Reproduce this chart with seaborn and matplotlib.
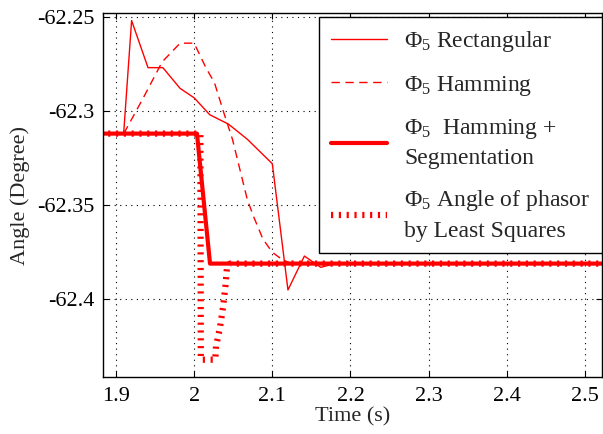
import matplotlib
matplotlib.use("Agg")
import matplotlib.pyplot as plt
import seaborn as sns
import pandas as pd

# data
rect_t = [1.91, 1.92, 1.941, 1.96, 1.982, 2.0, 2.02, 2.044, 2.068, 2.1, 2.12, 2.141, 2.162, 2.18, 2.2, 2.6]
rect_a = [-62.311, -62.252, -62.277, -62.277, -62.288, -62.293, -62.302, -62.307, -62.315, -62.328,
          -62.395, -62.377, -62.383, -62.381, -62.381, -62.381]

ham_t = [1.91, 1.935, 1.959, 1.982, 2.0, 2.015, 2.026, 2.038, 2.049, 2.068, 2.076, 2.088, 2.1, 2.113, 2.125, 2.6]
ham_a = [-62.312, -62.293, -62.274, -62.264, -62.264, -62.277, -62.285, -62.301, -62.315, -62.347,
         -62.356, -62.368, -62.375, -62.379, -62.381, -62.381]

seg_t = [1.88, 2.0036, 2.0203, 2.6]
seg_a = [-62.312, -62.312, -62.381, -62.381]

ls_t = [1.88, 2.008, 2.0085, 2.027, 2.028, 2.033, 2.037, 2.040, 2.042, 2.046, 2.6]
ls_a = [-62.312, -62.312, -62.432, -62.432, -62.425, -62.415, -62.404, -62.393, -62.383, -62.381, -62.381]

labels = [
    r"$\Phi_5$ Rectangular",
    r"$\Phi_5$ Hamming",
    "$\\Phi_5$  Hamming +\nSegmentation",
    "$\\Phi_5$ Angle of phasor\nby Least Squares",
]

sns.set_style("ticks")
plt.rcParams["font.family"] = ["Liberation Serif", "DejaVu Serif"]
plt.rcParams["mathtext.fontset"] = "custom"
plt.rcParams["mathtext.rm"] = "Liberation Serif"
plt.rcParams["mathtext.it"] = "Liberation Serif:italic"

fig = plt.figure(figsize=(6.03, 4.34), dpi=100)
ax = fig.add_axes([0.1708, 0.1313, 0.8275, 0.8387])

red = "#ff0000"
sns.lineplot(x=rect_t, y=rect_a, ax=ax, color=red, lw=1.0, sort=False,
             estimator=None, label=labels[0])
sns.lineplot(x=ham_t, y=ham_a, ax=ax, color=red, lw=1.0, sort=False,
             estimator=None, label=labels[1], dashes=False)
ax.lines[-1].set_linestyle((0, (6, 4)))
sns.lineplot(x=seg_t, y=seg_a, ax=ax, color=red, lw=3.0, sort=False,
             estimator=None, label=labels[2])
sns.lineplot(x=ls_t, y=ls_a, ax=ax, color=red, lw=4.5, sort=False,
             estimator=None, label=labels[3])
ax.lines[-1].set_linestyle((0, (0.35, 0.9)))
ax.lines[-1].set_dash_capstyle("butt")

ax.set_xlim(1.8834, 2.5217)
ax.set_ylim(-62.4412, -62.248)
ax.set_xticks([1.9, 2.0, 2.1, 2.2, 2.3, 2.4, 2.5])
ax.set_xticklabels(["1.9", "2", "2.1", "2.2", "2.3", "2.4", "2.5"])
ax.set_yticks([-62.25, -62.3, -62.35, -62.4])
ax.set_yticklabels(["-62.25", "-62.3", "-62.35", "-62.4"])

ax.grid(True, color="black", linestyle=(0, (1, 4)), linewidth=0.8)
ax.tick_params(direction="in", length=4, top=True, right=True, labelsize=16,
               width=0.8, colors="black")
ax.tick_params(axis="x", pad=7)
ax.tick_params(axis="y", pad=6)
for s in ax.spines.values():
    s.set_color("black")
    s.set_linewidth(1.0)

ax.set_xlabel("Time (s)", fontsize=16, labelpad=1)
ax.set_ylabel("Angle (Degree)", fontsize=16, labelpad=5)

leg = ax.legend(loc="upper right", bbox_to_anchor=(1.0, 0.988), fontsize=17,
                frameon=True, fancybox=False, edgecolor="black", framealpha=1,
                handlelength=2.4, handletextpad=0.7, borderpad=0.5,
                labelspacing=0.82, borderaxespad=0.0)
for t in leg.get_texts():
    t.set_linespacing(1.45)
leg.get_frame().set_linewidth(1.0)

fig.savefig("out.png", dpi=100)
plt.close(fig)
